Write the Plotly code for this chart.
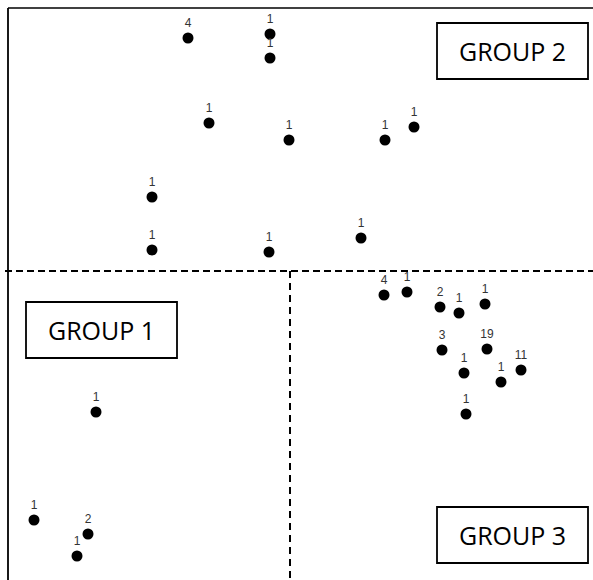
import plotly.graph_objects as go

# Data (x relative to vertical divider, y relative to horizontal divider)
xs = [-102, -20, -20, -81, -1, 95, 124, -138, -138, -21, 71,
      94, 117, 150, 169, 195, 152, 197, 174, 231, 211, 176,
      -194, -256, -202, -213]
ys = [233, 237, 213, 148, 131, 131, 144, 74, 21, 19, 33,
      -24, -21, -36, -42, -33, -79, -78, -102, -99, -111, -143,
      -141, -249, -263, -285]
counts = ["4", "1", "1", "1", "1", "1", "1", "1", "1", "1", "1",
          "4", "1", "2", "1", "1", "3", "19", "1", "11", "1", "1",
          "1", "1", "2", "1"]

group_names = ["GROUP 1", "GROUP 2", "GROUP 3"]
group_x0 = [-264, 147, 147]
group_x1 = [-113, 298, 298]
group_y0 = [-87, 192, -292]
group_y1 = [-31, 248, -236]

XR = [-290, 303]
YR = [-309, 271]

fig = go.Figure()
fig.add_trace(go.Scatter(
    x=xs, y=ys, mode="markers+text", text=counts,
    textposition="top center",
    textfont=dict(family="Liberation Sans, Arial", size=12, color="#333"),
    marker=dict(size=11, color="black"),
    hoverinfo="skip", showlegend=False, cliponaxis=False,
))

shapes = []
# frame (left and top)
shapes.append(dict(type="line", x0=-282, x1=-282, y0=263, y1=YR[0], xref="x", yref="y",
                   line=dict(color="black", width=1.8)))
shapes.append(dict(type="line", x0=-282, x1=XR[1], y0=263, y1=263, xref="x", yref="y",
                   line=dict(color="black", width=1.5)))
# dividers
shapes.append(dict(type="line", x0=-285, x1=XR[1], y0=0, y1=0, xref="x", yref="y",
                   line=dict(color="black", width=2, dash="7px,4px")))
shapes.append(dict(type="line", x0=0, x1=0, y0=0, y1=YR[0], xref="x", yref="y",
                   line=dict(color="black", width=2, dash="7px,5px")))

annotations = []
for name, a, b, c, d in zip(group_names, group_x0, group_x1, group_y0, group_y1):
    shapes.append(dict(type="rect", x0=a, x1=b, y0=c, y1=d, xref="x", yref="y",
                       line=dict(color="black", width=1.8), fillcolor="white", layer="above"))
    annotations.append(dict(x=(a + b) / 2, y=(c + d) / 2, text=name, showarrow=False,
                            xref="x", yref="y", xanchor="center", yanchor="middle",
                            font=dict(family="Open Sans", size=25, color="black")))

fig.update_layout(
    width=593, height=580,
    margin=dict(l=0, r=0, t=0, b=0),
    paper_bgcolor="white", plot_bgcolor="white",
    xaxis=dict(range=XR, visible=False, showgrid=False, zeroline=False, fixedrange=True),
    yaxis=dict(range=YR, visible=False, showgrid=False, zeroline=False, fixedrange=True),
    shapes=shapes, annotations=annotations,
)

fig.write_html("out.html", config={"displayModeBar": False},
               post_script="document.body.style.margin='0';")
